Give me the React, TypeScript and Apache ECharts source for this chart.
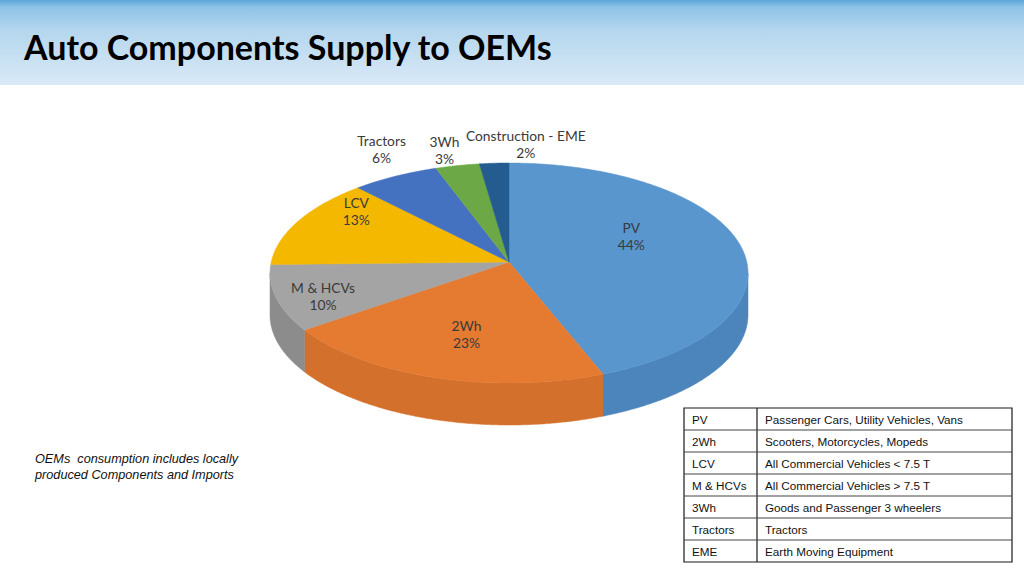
import { useEffect, useRef } from 'react'
import * as echarts from 'echarts'

// pie slices, clockwise from 12 o'clock
const categories = ['PV', '2Wh', 'M & HCVs', 'LCV', 'Tractors', '3Wh', 'Construction - EME']
const shares = [44, 23, 10, 13, 6, 3, 2]

// legend table
const tableCodes = ['PV', '2Wh', 'LCV', 'M & HCVs', '3Wh', 'Tractors', 'EME']
const tableDescriptions = [
  'Passenger Cars, Utility Vehicles, Vans',
  'Scooters, Motorcycles, Mopeds',
  'All Commercial Vehicles < 7.5 T',
  'All Commercial Vehicles > 7.5 T',
  'Goods and Passenger 3 wheelers',
  'Tractors',
  'Earth Moving Equipment',
]

const noteLines = ['OEMs  consumption includes locally', 'produced Components and Imports']

const topColors = ['#5896CD', '#E57A31', '#A4A4A4', '#F5B800', '#4571C1', '#6CA845', '#255C8F']
const sideColors = ['#4C85BB', '#D2702C', '#8C8C8C', '#D9A300', '#3A61A8', '#5C913A', '#1E4D78']

// label placement: radial fraction and angular nudge (degrees) per slice
const labelRadius = [0.55, 0.58, 0.82, 0.75, 1.02, 0.9, 0.91]
const labelTurn = [-10, 0, -5, 4, -3, -5, 8]

// 3D pie geometry
const CX = 509
const CY = 273
const HUB_Y = 262
const RX = 239
const RY = 110
const LABEL_RY = 130
const DEPTH = 42

const TABLE_X = 684
const TABLE_Y = 408
const TABLE_W = 328
const COL_X = 757
const ROW_H = 22

export default function App() {
  const ref = useRef<HTMLDivElement>(null)

  useEffect(() => {
    if (!ref.current) return
    const chart = echarts.init(ref.current, null, { renderer: 'svg' })

    const total = shares.reduce((a, b) => a + b, 0)
    let acc = 0
    const sliceData = shares.map((v, i) => {
      const start = acc / total
      acc += v
      return { name: categories[i], value: [v, start, acc / total, i] }
    })

    const pt = (deg: number, dy = 0) => {
      const r = (deg * Math.PI) / 180
      return [CX + RX * Math.sin(r), CY - RY * Math.cos(r) + dy]
    }

    const renderItem = (params: any, api: any) => {
      const i = params.dataIndex
      const a0 = api.value(1) * 360
      const a1 = api.value(2) * 360
      const children: any[] = []

      // front wall
      const s0 = Math.max(a0, 90)
      const s1 = Math.min(a1, 270)
      if (s1 > s0) {
        const upper: number[][] = []
        const lower: number[][] = []
        for (let a = s0; a < s1; a += 0.5) {
          upper.push(pt(a))
          lower.push(pt(a, DEPTH))
        }
        upper.push(pt(s1))
        lower.push(pt(s1, DEPTH))
        children.push({
          type: 'polygon',
          shape: { points: upper.concat(lower.reverse()) },
          style: { fill: sideColors[i], stroke: sideColors[i], lineWidth: 0.5 },
        })
      }

      // top face
      const top: number[][] = [[CX, HUB_Y]]
      for (let a = a0; a < a1; a += 0.5) top.push(pt(a))
      top.push(pt(a1))
      children.push({
        type: 'polygon',
        shape: { points: top },
        style: { fill: topColors[i], stroke: topColors[i], lineWidth: 0.5 },
      })

      // label
      const mid = ((a0 + a1) / 2 + labelTurn[i]) * (Math.PI / 180)
      const f = labelRadius[i]
      children.push({
        type: 'text',
        x: CX + RX * Math.sin(mid) * f,
        y: HUB_Y - LABEL_RY * Math.cos(mid) * f,
        z2: 10,
        style: {
          text: `${categories[i]}\n${api.value(0)}%`,
          fill: '#3a3a3a',
          fontSize: 13.8,
          fontFamily: 'Lato',
          lineHeight: 17,
          align: 'center',
          verticalAlign: 'middle',
          textAlign: 'center',
          textVerticalAlign: 'middle',
        },
      })

      return { type: 'group', children }
    }

    const tableEls: any[] = []
    const rows = tableCodes.length
    const tableH = rows * ROW_H
    tableEls.push({
      type: 'rect',
      shape: { x: TABLE_X, y: TABLE_Y, width: TABLE_W, height: tableH },
      style: { fill: '#fff', stroke: '#1a1a1a', lineWidth: 1.2 },
    })
    tableEls.push({
      type: 'line',
      shape: { x1: COL_X, y1: TABLE_Y, x2: COL_X, y2: TABLE_Y + tableH },
      style: { stroke: '#1a1a1a', lineWidth: 1.2 },
    })
    tableCodes.forEach((code, r) => {
      const y = TABLE_Y + r * ROW_H
      if (r > 0) {
        tableEls.push({
          type: 'line',
          shape: { x1: TABLE_X, y1: y, x2: TABLE_X + TABLE_W, y2: y },
          style: { stroke: '#444', lineWidth: 1 },
        })
      }
      tableEls.push({
        type: 'text',
        x: TABLE_X + 8,
        y: y + ROW_H / 2,
        style: {
          text: code,
          fill: '#111',
          fontSize: 11.7,
          fontFamily: 'Liberation Sans',
          textVerticalAlign: 'middle',
          verticalAlign: 'middle',
        },
      })
      tableEls.push({
        type: 'text',
        x: COL_X + 8,
        y: y + ROW_H / 2,
        style: {
          text: tableDescriptions[r],
          fill: '#111',
          fontSize: 11.7,
          fontFamily: 'Liberation Sans',
          textVerticalAlign: 'middle',
          verticalAlign: 'middle',
        },
      })
    })

    chart.setOption({
      animation: false,
      graphic: [
        {
          type: 'rect',
          z: -10,
          shape: { x: 0, y: 0, width: 1024, height: 85 },
          style: {
            fill: {
              type: 'linear',
              x: 0,
              y: 0,
              x2: 0,
              y2: 1,
              colorStops: [
                { offset: 0, color: '#5BA4DA' },
                { offset: 0.08, color: '#8CC2E6' },
                { offset: 0.35, color: '#B4D6EE' },
                { offset: 1, color: '#DAE9F6' },
              ],
            },
          },
        },
        {
          type: 'text',
          x: 24,
          y: 46,
          style: {
            text: 'Auto Components Supply to OEMs',
            fill: '#000',
            fontSize: 34,
            fontWeight: 'bold',
            fontFamily: 'Lato',
            textVerticalAlign: 'middle',
            verticalAlign: 'middle',
          },
        },
        {
          type: 'text',
          x: 35,
          y: 467,
          style: {
            text: noteLines.join('\n'),
            fill: '#111',
            fontSize: 12.7,
            fontStyle: 'italic',
            fontFamily: 'Liberation Sans',
            lineHeight: 16,
            textVerticalAlign: 'middle',
            verticalAlign: 'middle',
          },
        },
        ...tableEls,
      ],
      series: [
        {
          type: 'custom',
          coordinateSystem: 'none',
          renderItem,
          data: sliceData,
        },
      ],
    })

    return () => chart.dispose()
  }, [])

  return (
    <div
      ref={ref}
      style={{ position: 'absolute', left: 0, top: 0, width: 1024, height: 575 }}
    />
  )
}
